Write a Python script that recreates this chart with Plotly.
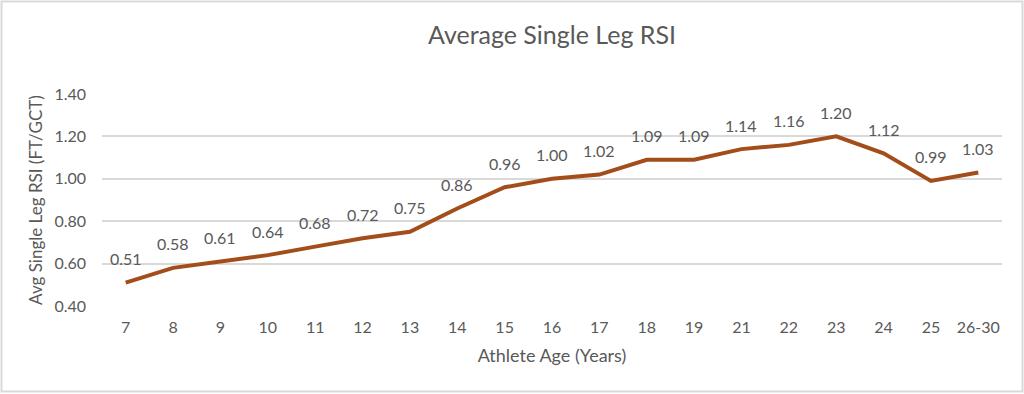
import plotly.graph_objects as go

ages = ["7", "8", "9", "10", "11", "12", "13", "14", "15", "16", "17", "18", "19",
        "21", "22", "23", "24", "25", "26-30"]
rsi = [0.51, 0.58, 0.61, 0.64, 0.68, 0.72, 0.75, 0.86, 0.96, 1.00, 1.02, 1.09, 1.09,
       1.14, 1.16, 1.20, 1.12, 0.99, 1.03]

FONT = "Lato, 'Open Sans', sans-serif"
GRAY = "#595959"

fig = go.Figure(go.Scatter(
    x=ages, y=rsi, mode="lines",
    line=dict(color="#A34E1A", width=4),
    hoverinfo="x+y",
))

annotations = [
    dict(x=i, y=v, xref="x", yref="y", text=f"{v:.2f}", showarrow=False,
         yanchor="middle", xanchor="center", yshift=24,
         font=dict(family=FONT, size=16, color=GRAY))
    for i, v in enumerate(rsi)
]

L, R, T, B = 102, 22, 94, 88
W, H = 1024, 394
pw, ph = W - L - R, H - T - B

fig.update_layout(
    width=W, height=H,
    margin=dict(l=L, r=R, t=T, b=B),
    paper_bgcolor="white", plot_bgcolor="white",
    showlegend=False,
    title=dict(text="Average Single Leg RSI", x=0.5, xref="paper", xanchor="center",
               y=1 - 35 / H, yanchor="middle",
               font=dict(family=FONT, size=25, color=GRAY)),
    font=dict(family=FONT, color=GRAY),
    annotations=annotations,
    xaxis=dict(type="category", range=[-0.5, len(ages) - 0.5],
               showgrid=False, zeroline=False, showline=False, ticks="",
               tickfont=dict(family=FONT, size=16, color=GRAY),
               ticklabelstandoff=10,
               title=dict(text="Athlete Age (Years)", standoff=14,
                          font=dict(family=FONT, size=18, color=GRAY))),
    yaxis=dict(range=[0.4, 1.4], dtick=0.2, tickformat=".2f",
               showgrid=True, gridcolor="#D9D9D9", gridwidth=1.5,
               zeroline=False, showline=False, ticks="",
               tickfont=dict(family=FONT, size=16, color=GRAY),
               ticklabelstandoff=15,
               title=dict(text="Avg Single Leg RSI (FT/GCT)", standoff=7,
                          font=dict(family=FONT, size=17, color=GRAY))),
    shapes=[dict(type="rect", xref="paper", yref="paper",
                 x0=-(L - 1.5) / pw, x1=1 + (R - 1.5) / pw,
                 y0=-(B - 2.5) / ph, y1=1 + (T - 1.5) / ph,
                 line=dict(color="#D9D9D9", width=2), layer="below")],
)

fig.write_html(
    "out.html",
    config={"displayModeBar": False},
    post_script="document.body.style.margin='0';document.body.style.overflow='hidden';",
)
